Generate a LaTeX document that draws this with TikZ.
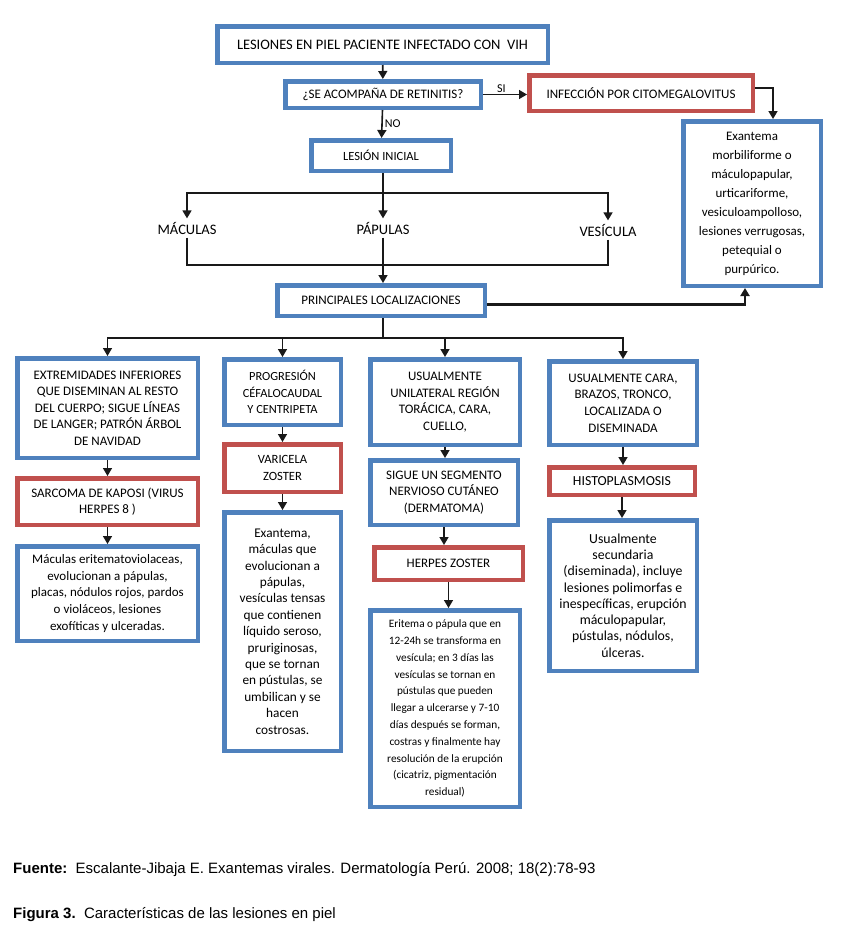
\documentclass[tikz,border=0pt]{standalone}
\usepackage{fontspec}
\setmainfont{Carlito}
\newfontfamily\captionfont{Liberation Sans}
\usetikzlibrary{arrows.meta, positioning}
\definecolor{boxblue}{RGB}{79,129,189}
\definecolor{boxred}{RGB}{192,80,77}
\definecolor{linedark}{RGB}{25,25,25}

\begin{document}
\begin{tikzpicture}[x=1pt, y=-1pt,
    bluebox/.style={draw=boxblue, line width=4.5pt, fill=white, align=center, inner sep=0pt, font=\fontsize{13}{16.6}\selectfont},
    redbox/.style={bluebox, draw=boxred},
    plain/.style={font=\fontsize{14.5}{17}\selectfont},
    arr/.style={-{Triangle[width=9pt,length=8pt]}, line width=1.6pt, draw=linedark},
    link/.style={line width=1.6pt, draw=linedark},
    caption/.style={anchor=west, inner sep=0pt, font=\captionfont\fontsize{15}{18}\selectfont},
]
  \useasboundingbox (0,0) rectangle (849,929);

  % Question on top
  \node[bluebox, font=\fontsize{14.5}{17}\selectfont, minimum width=330.5, minimum height=36.5] (title) at (382.5,44.5) {LESIONES EN PIEL PACIENTE INFECTADO CON\ \ VIH};
  \node[bluebox, minimum width=195.5, minimum height=26.5] (retin) at (383,94.5) {¿SE ACOMPAÑA DE RETINITIS?};
  \node[redbox, minimum width=223.5, minimum height=35.5] (cmv) at (641,93) {INFECCIÓN POR CITOMEGALOVITUS};
  \node[bluebox, font=\fontsize{13}{19}\selectfont, minimum width=137.5, minimum height=164.5] (exa) at (752,203.5) {Exantema\\morbiliforme o\\máculopapular,\\urticariforme,\\vesiculoampolloso,\\lesiones verrugosas,\\petequial o\\purpúrico.};
  \node[bluebox, font=\fontsize{12.5}{15}\selectfont, minimum width=139.5, minimum height=30.5] (inicial) at (381,155.5) {LESIÓN INICIAL};

  % Kinds of lesion
  \node[plain] (mac) at (187,228) {MÁCULAS};
  \node[plain] (pap) at (383,228) {PÁPULAS};
  \node[plain] (ves) at (608,230) {VESÍCULA};

  \node[bluebox, minimum width=207.5, minimum height=30.5] (princ) at (381,300.5) {PRINCIPALES LOCALIZACIONES};

  % Column 1
  \node[bluebox, minimum width=180.5, minimum height=99.5] (c1a) at (107.5,408) {EXTREMIDADES INFERIORES\\QUE DISEMINAN AL RESTO\\DEL CUERPO; SIGUE LÍNEAS\\DE LANGER; PATRÓN ÁRBOL\\DE NAVIDAD};
  \node[redbox, minimum width=180.5, minimum height=46.5] (c1b) at (107.5,501.5) {SARCOMA DE KAPOSI (VIRUS\\HERPES 8 )};
  \node[bluebox, minimum width=180.5, minimum height=94.5] (c1c) at (107.5,593.5) {Máculas eritematoviolaceas,\\evolucionan a pápulas,\\placas, nódulos rojos, pardos\\o violáceos, lesiones\\exofíticas y ulceradas.};

  % Column 2
  \node[bluebox, font=\fontsize{12.4}{16.6}\selectfont, minimum width=116.5, minimum height=65.5] (c2a) at (282.5,392) {PROGRESIÓN\\CÉFALOCAUDAL\\Y CENTRIPETA};
  \node[redbox, font=\fontsize{12.6}{16.6}\selectfont, minimum width=116.5, minimum height=47.5] (c2b) at (282.5,468) {VARICELA\\ZOSTER};
  \node[bluebox, font=\fontsize{13.3}{16.4}\selectfont, minimum width=116.5, minimum height=238.5] (c2c) at (282.5,631.5) {Exantema,\\máculas que\\evolucionan a\\pápulas,\\vesículas tensas\\que contienen\\líquido seroso,\\pruriginosas,\\que se tornan\\en pústulas, se\\umbilican y se\\hacen\\costrosas.};

  % Column 3
  \node[bluebox, minimum width=149.5, minimum height=85.5] (c3a) at (445,402) {USUALMENTE\\UNILATERAL REGIÓN\\TORÁCICA, CARA,\\CUELLO,};
  \node[bluebox, minimum width=147.5, minimum height=64.5] (c3b) at (444,492.5) {SIGUE UN SEGMENTO\\NERVIOSO CUTÁNEO\\(DERMATOMA)};
  \node[redbox, minimum width=148.5, minimum height=32.5] (c3c) at (448.5,563.5) {HERPES ZOSTER};
  \node[bluebox, font=\fontsize{11.3}{16.8}\selectfont, minimum width=149.5, minimum height=196.5] (c3d) at (445,708.5) {Eritema o pápula que en\\12-24h se transforma en\\vesícula; en 3 días las\\vesículas se tornan en\\pústulas que pueden\\llegar a ulcerarse y 7-10\\días después se forman,\\costras y finalmente hay\\resolución de la erupción\\(cicatriz, pigmentación\\residual)};

  % Column 4
  \node[bluebox, minimum width=147.5, minimum height=83.5] (c4a) at (623,403) {USUALMENTE CARA,\\BRAZOS, TRONCO,\\LOCALIZADA O\\DISEMINADA};
  \node[redbox, font=\fontsize{13.8}{16.6}\selectfont, minimum width=145.5, minimum height=27.5] (c4b) at (622,481) {HISTOPLASMOSIS};
  \node[bluebox, font=\fontsize{13.8}{16.3}\selectfont, minimum width=147.5, minimum height=150.5] (c4c) at (623,595.5) {Usualmente\\secundaria\\(diseminada), incluye\\lesiones polimorfas e\\inespecíficas, erupción\\máculopapular,\\pústulas, nódulos,\\úlceras.};

  % Connectors at the top
  \draw[arr] (title) -- (retin);
  \draw[arr] (retin.east) -- node[above, pos=0.42, inner sep=1.5pt, font=\fontsize{12}{14}\selectfont] (si) {SI} (retin.east -| cmv.west);
  \draw[arr] ([yshift=5pt]cmv.east) -| ([xshift=21pt]exa.north);
  \draw[arr] (retin) -- node[right, inner sep=2pt, font=\fontsize{12}{14}\selectfont] (no) {NO} (inicial);

  \coordinate (split) at (383,193);
  \draw[link] (inicial.south -| split) -- (split);
  \draw[arr] (split) -| (mac);
  \draw[arr] (split) -- (pap);
  \draw[arr] (split) -| (ves);

  \coordinate (merge) at (383,265);
  \draw[link] (mac) |- (merge);
  \draw[link] (ves) |- (merge);
  \draw[arr] (pap) -- (pap |- princ.north);
  \draw[arr, line width=2.6pt] ([yshift=-4pt]princ.east) -| ([xshift=-7pt]exa.south);

  % Down to the four columns
  \coordinate (dist) at (383,338);
  \draw[link] (princ.south -| dist) -- (dist);
  \foreach \col in {c1a,c2a,c3a,c4a}
    \draw[arr] (dist) -| (\col);
  \foreach \a/\b in {c1a/c1b, c1b/c1c, c2a/c2b, c2b/c2c, c3a/c3b, c3b/c3c, c3c/c3d, c4a/c4b, c4b/c4c}
    \draw[arr] (\a) -- (\a |- \b.north);

  % Caption
  \node[caption] (src) at (13,870) {\textbf{Fuente:}\ \ Escalante-Jibaja E. Exantemas virales. Dermatología Perú. 2008; 18(2):78-93};
  \node[caption] (fig) at (13,915) {\textbf{Figura 3.}\ \ Características de las lesiones en piel};
\end{tikzpicture}
\end{document}
